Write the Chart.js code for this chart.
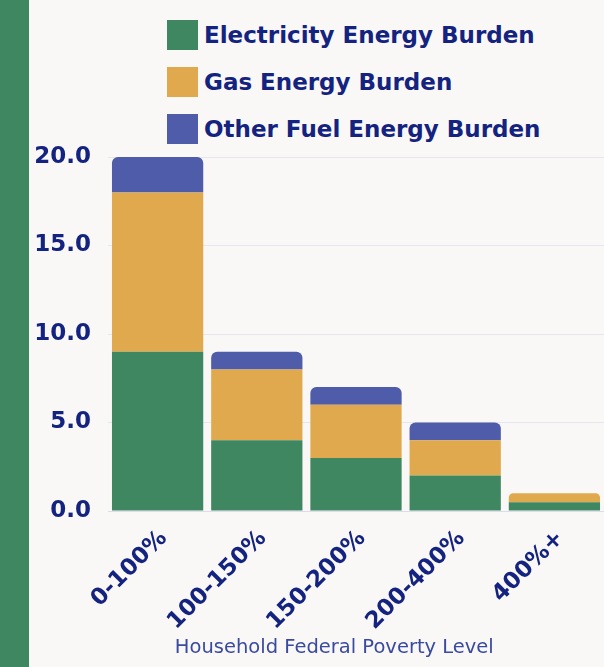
<!DOCTYPE html>
<html>
<head>
<meta charset="utf-8">
<script src="https://cdn.jsdelivr.net/npm/chart.js@4.4.1/dist/chart.umd.min.js"></script>
<style>
  body { margin: 0; background: #f9f8f7; width: 604px; height: 667px; overflow: hidden; }
  #strip { position: absolute; left: 0; top: 0; width: 29px; height: 667px; background: #3f8760; }
  #legend { position: absolute; left: 167px; top: 20px; font-family: 'DejaVu Sans', sans-serif; font-weight: bold; font-size: 23px; color: #14237f; }
  .item { display: flex; align-items: center; height: 30px; margin-bottom: 17px; white-space: nowrap; }
  .box { width: 31px; height: 30px; margin-right: 6px; }
  #wrap { position: absolute; left: 29px; top: 0; }
</style>
</head>
<body>
<div id="strip"></div>
<div id="legend"></div>
<div id="wrap"><canvas id="myChart" width="575" height="667"></canvas></div>
<script>
let categories = ['0-100%', '100-150%', '150-200%', '200-400%', '400%+'];
let electricity = [9, 4, 3, 2, 0.5];
let gas = [9, 4, 3, 2, 0.5];
let otherFuel = [2, 1, 1, 1, 0];
let seriesNames = ['Electricity Energy Burden', 'Gas Energy Burden', 'Other Fuel Energy Burden'];
let colorHex = ['#3f8760', '#e1a94d', '#4f5ca9'];
let yTicks = [0, 5, 10, 15, 20];

Chart.defaults.font.family = "'DejaVu Sans', sans-serif";

let ctx = document.getElementById('myChart').getContext('2d');
let myChart = new Chart(ctx, {
  type: 'bar',
  data: {
    labels: categories,
    datasets: [electricity, gas, otherFuel].map((values, i) => ({
      label: seriesNames[i],
      data: values,
      backgroundColor: colorHex[i],
      borderWidth: 0,
      borderRadius: 6,
      barPercentage: 0.92,
      categoryPercentage: 1
    }))
  },
  options: {
    responsive: false,
    animation: false,
    layout: {
      padding: { top: 157, left: 5, right: 0, bottom: 3 }
    },
    plugins: {
      legend: { display: false },
      tooltip: { enabled: false }
    },
    scales: {
      x: {
        stacked: true,
        grid: { display: false },
        border: { color: '#dddcea' },
        ticks: {
          color: '#14237f',
          font: { size: 23, weight: 'bold' },
          minRotation: 45,
          maxRotation: 45,
          padding: 6,
          labelOffset: 6
        },
        title: {
          display: true,
          text: 'Household Federal Poverty Level       ',
          color: '#3a4aa0',
          font: { size: 19.5 },
          padding: { top: 4, bottom: 4 }
        },
        afterFit: (axis) => {
          axis.height = 153;
          axis.paddingLeft = 0;
        }
      },
      y: {
        stacked: true,
        min: yTicks[0],
        max: yTicks[yTicks.length - 1],
        afterBuildTicks: (axis) => { axis.ticks = yTicks.map(v => ({ value: v })); },
        grid: { color: '#e7e6ef', drawTicks: false },
        border: { display: false },
        ticks: {
          color: '#14237f',
          font: { size: 23, weight: 'bold' },
          padding: 17,
          callback: (value) => value.toFixed(1)
        },
        // label width + padding, the measured width came out too wide
        afterFit: (axis) => { axis.width = 74; }
      }
    }
  }
});

// html legend built from the datasets
let legendEl = document.getElementById('legend');
myChart.data.datasets.forEach((ds) => {
  let row = document.createElement('div');
  row.className = 'item';
  let box = document.createElement('span');
  box.className = 'box';
  box.style.background = ds.backgroundColor;
  let txt = document.createElement('span');
  txt.textContent = ds.label;
  row.appendChild(box);
  row.appendChild(txt);
  legendEl.appendChild(row);
});
</script>
</body>
</html>
